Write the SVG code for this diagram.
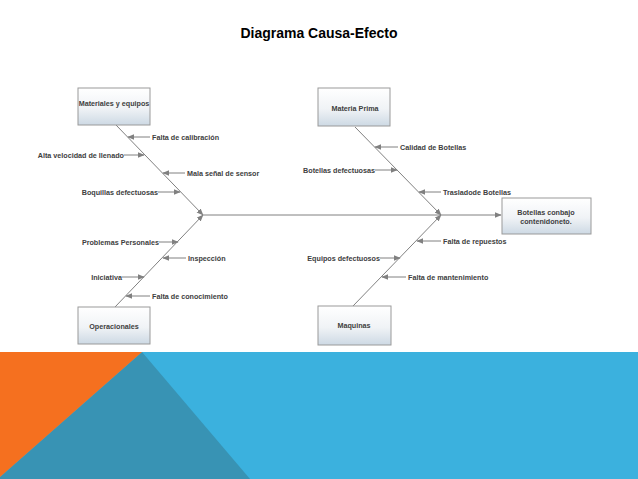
<svg xmlns="http://www.w3.org/2000/svg" width="638" height="479" viewBox="0 0 638 479">
<defs>
<linearGradient id="bx" x1="0" y1="0" x2="0" y2="1">
<stop offset="0" stop-color="#ffffff"/>
<stop offset="0.55" stop-color="#f0f3f6"/>
<stop offset="1" stop-color="#cdd9e4"/>
</linearGradient>
<marker id="ah" viewBox="0 0 10 10" refX="9" refY="5" markerWidth="7" markerHeight="7" markerUnits="userSpaceOnUse" orient="auto">
<path d="M0,1 L10,5 L0,9 z" fill="#808080"/>
</marker>
</defs>
<style>
.box{fill:url(#bx);stroke:#9a9a9a;stroke-width:1}
.t{font-family:"Liberation Sans",Arial,sans-serif;font-size:7.2px;font-weight:bold;fill:#404040}
.c{text-anchor:middle}
.ln{stroke:#808080;stroke-width:1;fill:none;marker-end:url(#ah)}
.title{font-family:"Liberation Sans",Arial,sans-serif;font-size:14px;font-weight:bold;fill:#000;text-anchor:middle}
</style>
<rect x="0" y="0" width="638" height="479" fill="#ffffff"/>
<text class="title" x="319" y="38">Diagrama Causa-Efecto</text>

<g id="band">
<rect x="0" y="352" width="638" height="127" fill="#3bb1de"/>
<polygon points="142,352 0,477 0,479 250,479" fill="#3893b4"/>
<polygon points="0,352 142,352 0,477" fill="#f5701f"/>
</g>

<g id="connectors">
<line class="ln" x1="116" y1="125" x2="203" y2="215"/>
<line class="ln" x1="115" y1="307" x2="203" y2="215"/>
<line class="ln" x1="355" y1="127" x2="441" y2="215"/>
<line class="ln" x1="353" y1="306" x2="441" y2="215"/>
<line class="ln" x1="203" y1="215" x2="501" y2="215"/>
<line class="ln" x1="150" y1="137" x2="128" y2="137"/>
<line class="ln" x1="124" y1="155" x2="144" y2="155"/>
<line class="ln" x1="185" y1="173" x2="163" y2="173"/>
<line class="ln" x1="158" y1="192" x2="180" y2="192"/>
<line class="ln" x1="159" y1="242" x2="178" y2="242"/>
<line class="ln" x1="186" y1="258" x2="163" y2="258"/>
<line class="ln" x1="122" y1="277" x2="144" y2="277"/>
<line class="ln" x1="150" y1="296" x2="126" y2="296"/>
<line class="ln" x1="398" y1="147" x2="375" y2="147"/>
<line class="ln" x1="375" y1="170" x2="397" y2="170"/>
<line class="ln" x1="441" y1="192" x2="419" y2="192"/>
<line class="ln" x1="441" y1="241" x2="417" y2="241"/>
<line class="ln" x1="380" y1="258" x2="400" y2="258"/>
<line class="ln" x1="406" y1="277" x2="382" y2="277"/>
</g>

<g id="n-materiales">
<rect class="box" x="78" y="88" width="72" height="37"/>
<text class="t c" x="114" y="106">Materiales y equipos</text>
</g>
<g id="n-materia">
<rect class="box" x="318" y="88" width="72" height="38"/>
<text class="t c" x="355" y="111">Materia Prima</text>
</g>
<g id="n-efecto">
<rect class="box" x="502" y="198" width="89" height="36"/>
<text class="t c" x="546" y="215">Botellas conbajo</text>
<text class="t c" x="546" y="224">contenidoneto.</text>
</g>
<g id="n-operacionales">
<rect class="box" x="78" y="307" width="72" height="37"/>
<text class="t c" x="114" y="329">Operacionales</text>
</g>
<g id="n-maquinas">
<rect class="box" x="318" y="306" width="73" height="39"/>
<text class="t c" x="354" y="328">Maquinas</text>
</g>

<g id="labels">
<text class="t" x="152" y="139.5">Falta de calibración</text>
<text class="t" x="124" y="157.5" text-anchor="end">Alta velocidad de llenado</text>
<text class="t" x="187" y="175.5">Mala señal de sensor</text>
<text class="t" x="158" y="194.5" text-anchor="end">Boquillas defectuosas</text>
<text class="t" x="159" y="244.5" text-anchor="end">Problemas Personales</text>
<text class="t" x="188" y="260.5">Inspección</text>
<text class="t" x="122" y="279.5" text-anchor="end">Iniciativa</text>
<text class="t" x="152" y="298.5">Falta de conocimiento</text>
<text class="t" x="400" y="149.5">Calidad de Botellas</text>
<text class="t" x="375" y="172.5" text-anchor="end">Botellas defectuosas</text>
<text class="t" x="443" y="194.5">Trasladode Botellas</text>
<text class="t" x="443" y="243.5">Falta de repuestos</text>
<text class="t" x="380" y="260.5" text-anchor="end">Equipos defectuosos</text>
<text class="t" x="408" y="279.5">Falta de mantenimiento</text>
</g>
</svg>
